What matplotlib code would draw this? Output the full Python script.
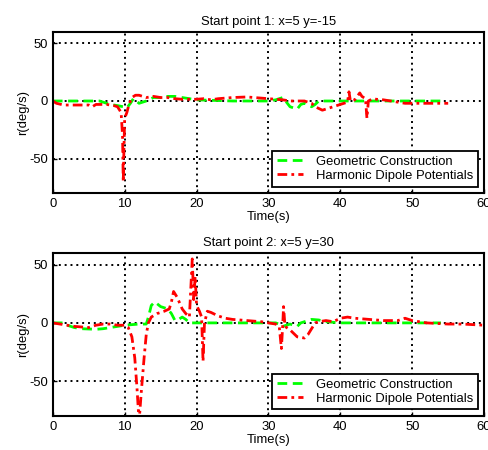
import matplotlib

matplotlib.use("Agg")
import matplotlib.pyplot as plt  # noqa: E402

plt.rcParams["font.family"] = ["Liberation Sans", "DejaVu Sans"]
plt.rcParams["font.size"] = 9.4
plt.rcParams["axes.unicode_minus"] = False

# start point 1: x=5 y=-15
t1_geo = [0, 6.5, 7, 8, 9, 9.8, 10.3, 10.8, 11.2, 12, 13, 14, 15, 16, 17, 18, 19, 20, 25, 30,
          31, 32, 33, 34, 34.5, 35, 36, 36.5, 37, 45, 54]
r1_geo = [0, 0, -1, -3, -4, -5, -6, -2, 2, -2, 0, 3, 3, 4, 4, 3, 2, 1, 0, 0,
          1, 3, -5, -7, -3, -2, -5, -3, 0, 0, 0]
t1_hdp = [0, 0.5, 1.5, 5, 5.5, 6, 7.5, 8.5, 9, 9.5, 9.7, 9.8, 9.9, 10, 10.3, 10.6, 11, 11.5, 12,
          13, 14, 15, 16, 17, 18, 20, 21, 22, 23, 25, 27, 28, 29, 30, 31, 32, 33, 35, 36, 36.5,
          37.5, 38.5, 39.5, 40.5, 41, 41.2, 41.4, 42, 42.7, 43, 43.5, 43.7, 43.9, 44.5, 45, 46,
          47, 48, 49, 50, 55]
r1_hdp = [0, -2, -3.5, -3.5, -5, -3, -3, -4, -5, -10, -30, -70, -40, -15, -10, -3, 3, 5, 5,
          3, 4, 3, 3, 2, 1.5, 1.5, 2, 1, 2, 3, 3.5, 3, 2.5, 2, 1.5, 1, 0, 0, -2, -5,
          -8, -6, -4, -2, -1, 8, 0, 1, 7, 4, 2, -15, 0, 2, 1.5, 1,
          0, -1, -2, -2, -2]

# start point 2: x=5 y=30
t2_geo = [0, 1.5, 2, 3, 4, 6, 7, 8, 9, 10, 12, 13, 13.3, 13.7, 14.2, 14.6, 15, 16, 16.5, 17,
          17.5, 18, 18.5, 19, 25, 31, 31.5, 32, 32.5, 33, 34, 34.5, 35, 36, 37, 38, 40, 54]
r2_geo = [0, 0, -2, -4, -5, -5.5, -5, -4, -3, -2, -1, -1, 5, 15, 18, 16, 14, 12, 8, 2,
          3, 5, 3, 0, 0, 0, -1, -3, -2, -1, -3, 0, 1, 3, 2.5, 1, 0, 0]
t2_hdp = [0, 1, 2, 3, 4, 5, 6, 7, 8, 9, 10, 10.5, 11, 11.4, 11.7, 12, 12.3, 12.7, 13, 13.3,
          13.7, 14.5, 15.5, 16.2, 16.5, 16.8, 17.3, 18, 18.5, 19, 19.2, 19.4, 19.6, 19.8, 20,
          20.4, 20.7, 20.9, 21.1, 21.5, 22, 23, 24, 25, 27, 29, 30, 31, 31.5, 31.8, 32, 32.1,
          32.3, 33, 34, 35, 35.5, 36, 36.5, 37, 38, 39, 40, 41, 42, 44, 46, 48, 49, 50, 52,
          55, 57, 60]
r2_hdp = [0, -1, -2, -3, -3.5, -4, -2, -1, -1, -2, -2, -4, -12, -30, -55, -85, -60, -30, -10, 0,
          5, 8, 10, 12, 18, 27, 22, 12, 8, 5, 30, 55, 20, 40, 15,
          10, 5, -33, 0, 10, 9, 6, 4, 3, 2, 1, 0, -1, -3, -22, 0, 14,
          -3, -6, -12, -13, -10, -5, 0, 1, 2, 1, 4, 5, 4, 3, 2, 2, 4, 2, 0,
          -1, -1, -2]

panels = [
    ("Start point 1: x=5 y=-15", t1_geo, r1_geo, t1_hdp, r1_hdp),
    ("Start point 2: x=5 y=30", t2_geo, r2_geo, t2_hdp, r2_hdp),
]

fig = plt.figure(figsize=(4.89, 4.5), dpi=100, facecolor="white")
rects = [[0.108, 0.571, 0.882, 0.358], [0.108, 0.0756, 0.882, 0.362]]

for rect, (title, tg, rg, th, rh) in zip(rects, panels):
    ax = fig.add_axes(rect)
    ax.plot(tg, rg, color="#00ff00", linestyle=(0, (3.5, 2)), linewidth=2.0,
            label="Geometric Construction")
    ax.plot(th, rh, color="#ff0000", linestyle=(0, (3.5, 1.5, 1, 1.5)), linewidth=2.0,
            label="Harmonic Dipole Potentials")
    ax.set_xlim(0, 60)
    ax.set_ylim(-80, 60)
    ax.set_xticks(range(0, 61, 10))
    ax.set_yticks([-50, 0, 50])
    ax.grid(True, color="black", linestyle=(0, (1, 2)), linewidth=1.4)
    ax.tick_params(direction="in", length=3, width=1, labelsize=9.4, colors="black")
    for spine in ax.spines.values():
        spine.set_linewidth(1.5)
    ax.set_title(title, fontsize=9.4, pad=5)
    ax.set_xlabel("Time(s)", fontsize=9.4, labelpad=1)
    ax.set_ylabel("r(deg/s)", fontsize=9.4, labelpad=0)
    leg = ax.legend(loc="lower right", fontsize=9.4, fancybox=False, framealpha=1,
                    edgecolor="black", borderpad=0.35, labelspacing=0.15,
                    handlelength=2.0, handletextpad=1.0, borderaxespad=0.5)
    leg.get_frame().set_linewidth(1.3)

fig.savefig("out.png", dpi=100, facecolor="white")
